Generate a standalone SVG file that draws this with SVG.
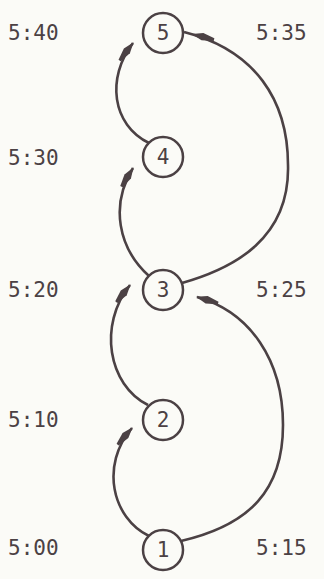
<svg xmlns="http://www.w3.org/2000/svg" width="324" height="579" viewBox="0 0 324 579">
<style>
.bg{fill:#fbfbf7}
.node circle{fill:none;stroke:#4b4144;stroke-width:2.5}
.node text{font-family:"DejaVu Sans Mono","Liberation Mono",monospace;font-size:21px;fill:#4b4144;text-anchor:middle;dominant-baseline:central}
.lbl{font-family:"DejaVu Sans Mono","Liberation Mono",monospace;font-size:21px;fill:#4b4144;dominant-baseline:central}
.edge{fill:none;stroke:#4b4144;stroke-width:2.6;marker-end:url(#ah)}
.edge.mid{marker-end:url(#ah2)}
</style>
<defs>
<marker id="ah" markerUnits="userSpaceOnUse" markerWidth="30" markerHeight="14" viewBox="-24 -7 30 14" refX="0" refY="0" orient="auto">
<path d="M1,0 L-10,-3.8 L-22,-1.3 L-22,1.3 L-10,3.8 Z" fill="#4b4144"/>
</marker>
<marker id="ah2" markerUnits="userSpaceOnUse" markerWidth="40" markerHeight="14" viewBox="-34 -7 40 14" refX="0" refY="0" orient="auto">
<path d="M-8,0 L-19,-3.8 L-31,-1.3 L-31,1.3 L-19,3.8 Z" fill="#4b4144"/>
</marker>
</defs>
<rect class="bg" x="0" y="0" width="324" height="579"/>
<g id="labels">
<text class="lbl" x="8" y="33">5:40</text>
<text class="lbl" x="8" y="158">5:30</text>
<text class="lbl" x="8" y="290">5:20</text>
<text class="lbl" x="8" y="420">5:10</text>
<text class="lbl" x="8" y="548">5:00</text>
<text class="lbl" x="256" y="33">5:35</text>
<text class="lbl" x="256" y="290">5:25</text>
<text class="lbl" x="256" y="548">5:15</text>
</g>
<g id="connectors">
<path class="edge" d="M149,536 C112,518 100,465 132,428"/>
<path class="edge" d="M181,541 C250,525 283,490 283,425 C283,360 250,312 197,297"/>
<path class="edge" d="M148,405 C108,385 98,325 130,285"/>
<path class="edge" d="M149,276 C118,248 110,205 133,168"/>
<path class="edge" d="M149,143 C112,125 106,78 133,43"/>
<path class="edge mid" d="M182,283 C235,268 290,238 288,165 C288,100 255,50 184,32"/>
</g>
<g id="n5" class="node"><circle cx="163" cy="33" r="20"/><text x="163" y="33">5</text></g>
<g id="n4" class="node"><circle cx="163" cy="157" r="20"/><text x="163" y="157">4</text></g>
<g id="n3" class="node"><circle cx="163" cy="290" r="20"/><text x="163" y="290">3</text></g>
<g id="n2" class="node"><circle cx="163" cy="420" r="20"/><text x="163" y="420">2</text></g>
<g id="n1" class="node"><circle cx="163" cy="550" r="20"/><text x="163" y="550">1</text></g>
</svg>
